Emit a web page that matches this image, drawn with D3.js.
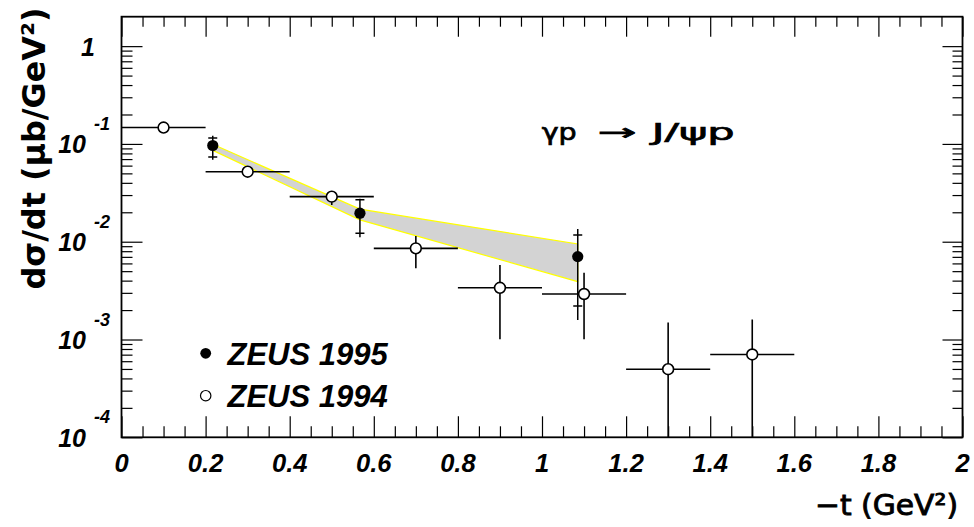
<!DOCTYPE html>
<html>
<head>
<meta charset="utf-8">
<script src="https://cdn.jsdelivr.net/npm/d3@7"></script>
<style>
  html, body { margin: 0; padding: 0; background: #ffffff; }
  svg { display: block; }
</style>
</head>
<body>
<script>
// ZEUS 1994 (open circles): bin centres in -t, half bin widths, dσ/dt and error limits (μb/GeV²)
const t94 = [0.1, 0.3, 0.5, 0.7, 0.9, 1.1, 1.3, 1.5];
const t94HalfWidth = [0.1, 0.1, 0.1, 0.1, 0.1, 0.1, 0.1, 0.1];
const xsec94 = [0.147, 0.052, 0.0289, 0.00855, 0.00338, 0.00292, 0.000497, 0.000703];
const xsec94Hi = [0.157, 0.055, 0.0331, 0.01147, 0.00579, 0.00483, 0.001494, 0.001604];
const xsec94Lo = [0.138, 0.049, 0.0237, 0.00536, 0.001005, 0.001005, 0, 0];

// ZEUS 1995 (filled circles): statistical limits (capped) and total limits
const t95 = [0.217, 0.567, 1.085];
const xsec95 = [0.0964, 0.01958, 0.00704];
const xsec95StatHi = [0.1147, 0.0268, 0.01174];
const xsec95StatLo = [0.0733, 0.01222, 0.0022];
const xsec95TotHi = [0.1211, 0.02743, 0.01352];
const xsec95TotLo = [0.0688, 0.01112, 0.001585];

// Systematic band around the 1995 measurement
const bandT = [0.217, 0.567, 1.085];
const bandHi = [0.0991, 0.02153, 0.0095];
const bandLo = [0.086, 0.01672, 0.00391];

// Axis ticks and labels
const xMajorTicks = [0, 0.2, 0.4, 0.6, 0.8, 1, 1.2, 1.4, 1.6, 1.8, 2];
const xMajorLabels = ["0", "0.2", "0.4", "0.6", "0.8", "1", "1.2", "1.4", "1.6", "1.8", "2"];
const xMinorStep = 0.05;
const yDecades = [1e-4, 1e-3, 1e-2, 1e-1, 1];
const yLabelBase = ["10", "10", "10", "10", "1"];
const yLabelExp = ["-4", "-3", "-2", "-1", ""];

// Texts
const legendLabels = ["ZEUS 1995", "ZEUS 1994"];
const processParts = ["γp", "→", "J/ψp"];
const yTitle = "dσ/dt (μb/GeV²)";
const xTitle = "−t (GeV²)";

const W = 974, H = 527;
const X0 = 121.5, X1 = 962.5, Y0 = 16.7, Y1 = 437.3;
const yMin = 1e-4, yMax = 2;

const x = d3.scaleLinear().domain([0, 2]).range([X0, X1]);
const y = d3.scaleLog().domain([yMin, yMax]).range([Y1, Y0]);
const yc = v => y(Math.max(v, yMin));

const svg = d3.select("body").append("svg")
  .attr("width", W).attr("height", H)
  .attr("viewBox", `0 0 ${W} ${H}`);

svg.append("rect").attr("width", W).attr("height", H).attr("fill", "#ffffff");

// ---- tick marks on all four sides ----
const xMinor = d3.range(0, 2 + 1e-9, xMinorStep).filter(v => !xMajorTicks.some(m => Math.abs(m - v) < 1e-6));
const yMinor = [];
yDecades.forEach(d => { for (let m = 2; m <= 9; m++) { const v = d * m; if (v < yMax) yMinor.push(v); } });

const MAJ = 21, MIN = 11;
function tickAxis(gen, vals, len, tx, ty) {
  const g = svg.append("g").attr("transform", `translate(${tx},${ty})`)
    .call(gen.tickValues(vals).tickSize(-len).tickSizeOuter(0).tickFormat(""));
  g.select(".domain").remove();
  g.selectAll("line").attr("stroke", "#000").attr("stroke-width", 1.2);
  return g;
}
tickAxis(d3.axisBottom(x), xMajorTicks, MAJ, 0, Y1);
tickAxis(d3.axisBottom(x), xMinor, MIN, 0, Y1);
tickAxis(d3.axisTop(x), xMajorTicks, MAJ - 1, 0, Y0);
tickAxis(d3.axisTop(x), xMinor, MIN - 1, 0, Y0);
tickAxis(d3.axisLeft(y), yDecades, MAJ, X0, 0);
tickAxis(d3.axisLeft(y), yMinor, MIN, X0, 0);
tickAxis(d3.axisRight(y), yDecades, MAJ - 1, X1, 0);
tickAxis(d3.axisRight(y), yMinor, MIN - 1, X1, 0);

// ---- x tick labels ----
const labelFont = "'Liberation Sans', Arial, Helvetica, sans-serif";
svg.append("g").selectAll("text").data(xMajorTicks).join("text")
  .attr("x", d => x(d))
  .attr("y", 471.5)
  .attr("text-anchor", "middle")
  .attr("font-family", labelFont)
  .attr("font-weight", "bold")
  .attr("font-style", "italic")
  .attr("font-size", 25.5)
  .attr("fill", "#000")
  .text((d, i) => xMajorLabels[i]);

// ---- y tick labels (10 with exponent) ----
const yl = svg.append("g");
yDecades.forEach((d, i) => {
  const ty = y(d);
  if (yLabelExp[i] === "") {
    yl.append("text").attr("x", 88).attr("y", ty + 10)
      .attr("text-anchor", "middle")
      .attr("font-family", labelFont).attr("font-weight", "bold").attr("font-style", "italic")
      .attr("font-size", 25).text(yLabelBase[i]);
  } else {
    yl.append("text").attr("x", 86).attr("y", ty + 9.3)
      .attr("text-anchor", "end")
      .attr("font-family", labelFont).attr("font-weight", "bold").attr("font-style", "italic")
      .attr("font-size", 25).text(yLabelBase[i]);
    yl.append("text").attr("x", 94).attr("y", ty - 14)
      .attr("text-anchor", "start")
      .attr("font-family", labelFont).attr("font-weight", "bold").attr("font-style", "italic")
      .attr("font-size", 18).text(yLabelExp[i]);
  }
});

// ---- plot content, clipped to the frame ----
svg.append("clipPath").attr("id", "frameClip")
  .append("rect").attr("x", X0).attr("y", Y0).attr("width", X1 - X0).attr("height", Y1 - Y0);
const plot = svg.append("g").attr("clip-path", "url(#frameClip)");

// systematic band
const bandData = bandT.map((t, i) => ({ t, hi: bandHi[i], lo: bandLo[i] }));
const area = d3.area().x(d => x(d.t)).y0(d => y(d.lo)).y1(d => y(d.hi));
plot.append("path").attr("d", area(bandData))
  .attr("fill", "#d3d3d3").attr("stroke", "#ffff00").attr("stroke-width", 1.2)
  .attr("stroke-linejoin", "miter");

// 1994 error bars
const d94 = t94.map((t, i) => ({ t, hw: t94HalfWidth[i], v: xsec94[i], hi: xsec94Hi[i], lo: xsec94Lo[i] }));
const g94 = plot.append("g").attr("stroke", "#000").attr("stroke-width", 1.6);
g94.selectAll("line.h").data(d94).join("line").attr("class", "h")
  .attr("x1", d => x(d.t - d.hw)).attr("x2", d => x(d.t + d.hw))
  .attr("y1", d => y(d.v)).attr("y2", d => y(d.v));
g94.selectAll("line.v").data(d94).join("line").attr("class", "v")
  .attr("x1", d => x(d.t)).attr("x2", d => x(d.t))
  .attr("y1", d => yc(d.lo)).attr("y2", d => yc(d.hi));

// 1995 error bars: total (plain) and statistical (with caps)
const d95 = t95.map((t, i) => ({
  t, v: xsec95[i], sHi: xsec95StatHi[i], sLo: xsec95StatLo[i], tHi: xsec95TotHi[i], tLo: xsec95TotLo[i]
}));
const g95 = plot.append("g").attr("stroke", "#000").attr("stroke-width", 1.5);
g95.selectAll("line.tot").data(d95).join("line").attr("class", "tot")
  .attr("x1", d => x(d.t)).attr("x2", d => x(d.t))
  .attr("y1", d => yc(d.tLo)).attr("y2", d => yc(d.tHi));
const CAP = 4.5;
g95.selectAll("line.capHi").data(d95).join("line").attr("class", "capHi")
  .attr("x1", d => x(d.t) - CAP).attr("x2", d => x(d.t) + CAP)
  .attr("y1", d => y(d.sHi)).attr("y2", d => y(d.sHi));
g95.selectAll("line.capLo").data(d95).join("line").attr("class", "capLo")
  .attr("x1", d => x(d.t) - CAP).attr("x2", d => x(d.t) + CAP)
  .attr("y1", d => y(d.sLo)).attr("y2", d => y(d.sLo));

// markers
plot.append("g").selectAll("circle").data(d94).join("circle")
  .attr("cx", d => x(d.t)).attr("cy", d => y(d.v)).attr("r", 5.4)
  .attr("fill", "#fff").attr("stroke", "#000").attr("stroke-width", 1.6);
plot.append("g").selectAll("circle").data(d95).join("circle")
  .attr("cx", d => x(d.t)).attr("cy", d => y(d.v)).attr("r", 5.6)
  .attr("fill", "#000");

// ---- frame ----
svg.append("rect").attr("x", X0).attr("y", Y0).attr("width", X1 - X0).attr("height", Y1 - Y0)
  .attr("fill", "none").attr("stroke", "#000").attr("stroke-width", 1.8);

// ---- legend ----
const lg = svg.append("g");
lg.append("circle").attr("cx", 205.7).attr("cy", 353.3).attr("r", 5.4).attr("fill", "#000");
lg.append("circle").attr("cx", 205.7).attr("cy", 395.7).attr("r", 5.2)
  .attr("fill", "#fff").attr("stroke", "#000").attr("stroke-width", 1.2);
lg.selectAll("text").data(legendLabels).join("text")
  .attr("x", 227.5).attr("y", (d, i) => i === 0 ? 365 : 406.8)
  .attr("font-family", labelFont).attr("font-weight", "bold").attr("font-style", "italic")
  .attr("font-size", 31).attr("fill", "#000")
  .text(d => d);

// ---- process label ----
const titleFont = "'DejaVu Sans', Verdana, sans-serif";
const procPos = [[541.7, 35], [597.7, 39], [651.7, 83]];
processParts.forEach((p, i) => {
  svg.append("text").attr("x", procPos[i][0]).attr("y", 140)
    .attr("font-family", titleFont).attr("font-size", 23)
    .attr("fill", "#000").attr("stroke", "#000").attr("stroke-width", 0.7)
    .attr("textLength", procPos[i][1]).attr("lengthAdjust", "spacingAndGlyphs")
    .text(p);
});

// ---- axis titles ----
svg.append("text")
  .attr("transform", "translate(45,148.5) rotate(-90)")
  .attr("text-anchor", "middle")
  .attr("font-family", titleFont).attr("font-weight", "bold").attr("font-size", 32)
  .attr("textLength", 282).attr("lengthAdjust", "spacingAndGlyphs")
  .text(yTitle);

svg.append("text")
  .attr("x", 958).attr("y", 515)
  .attr("text-anchor", "end")
  .attr("font-family", titleFont).attr("font-size", 29)
  .attr("fill", "#000").attr("stroke", "#000").attr("stroke-width", 0.9)
  .attr("textLength", 143).attr("lengthAdjust", "spacingAndGlyphs")
  .text(xTitle);
</script>
</body>
</html>
